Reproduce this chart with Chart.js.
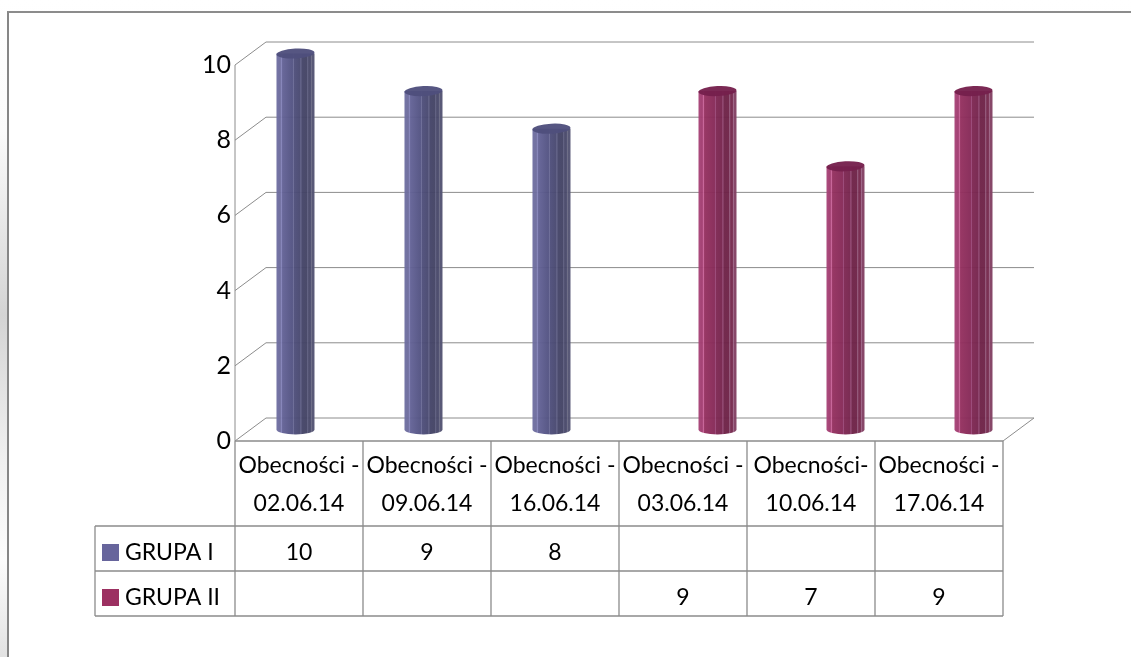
<!DOCTYPE html>
<html>
<head>
<meta charset="utf-8">
<style>
  html, body { margin: 0; padding: 0; width: 1131px; height: 657px; overflow: hidden; }
  body { background: linear-gradient(to bottom, #fff 0%, #fbfbfb 20%, #d4d4d4 48%, #f0f0f0 70%, #fcfcfc 85%, #e2e2e2 100%); }
  #frame { position: absolute; left: 7px; top: 11px; right: 0; bottom: 0; background: #fff;
           border-left: 2px solid #868686; border-top: 2px solid #8c8c8c; }
  #wykres { position: absolute; left: 0; top: 0; }
</style>
</head>
<body>
<div id="frame"></div>
<canvas id="wykres" width="1131" height="657"></canvas>
<script src="https://cdn.jsdelivr.net/npm/chart.js@4"></script>
<script>
// dane wykresu
const kategorie = [
  ['Obecności -', '02.06.14'],
  ['Obecności -', '09.06.14'],
  ['Obecności -', '16.06.14'],
  ['Obecności -', '03.06.14'],
  ['Obecności-', '10.06.14'],
  ['Obecności -', '17.06.14']
];
const grupa1 = [10, 9, 8, null, null, null];
const grupa2 = [null, null, null, 9, 7, 9];
const nazwy = ['GRUPA I', 'GRUPA II'];
const kolory = ['#67659c', '#9c3061'];

const CZCIONKA = 'Lato, "Open Sans", sans-serif';
const KOLOR_LINII = '#8c8c8c';
const GLEB_X = 31, GLEB_Y = 23;       // glebokosc sciany 3D

// pasy na walcu: [pozycja, kolor], osobno dla kazdej serii
const pasy = [
  [[0, '#6f6fa2'], [0.1, '#6c6b9c'], [0.13, '#8584ba'], [0.16, '#636296'], [0.42, '#525282'], [0.44, '#72729e'],
   [0.47, '#4e4e7a'], [0.62, '#484870'], [0.64, '#68688e'], [0.67, '#444468'], [0.8, '#434364'], [0.82, '#626284'],
   [0.85, '#454566'], [0.9, '#4c4c6e'], [0.92, '#6a6a84'], [0.95, '#505070'], [1, '#565674']],
  [[0, '#a84478'], [0.1, '#a03a6e'], [0.13, '#c86398'], [0.16, '#94305f'], [0.42, '#862957'], [0.44, '#a04e80'],
   [0.47, '#7e2752'], [0.62, '#76244d'], [0.64, '#9c5480'], [0.67, '#6e2247'], [0.8, '#6e2247'], [0.82, '#986082'],
   [0.85, '#722449'], [0.9, '#7a3053'], [0.92, '#9c6284'], [0.95, '#803c5f'], [1, '#844466']]
];
const pokrywy = ['#4f4f7d', '#76204d'];

// siatka 3D: sciana tylna, skosy i podloga
const siatka3d = {
  id: 'siatka3d',
  beforeDatasetsDraw(chart) {
    const { ctx, chartArea: a, scales: { y } } = chart;
    ctx.save();
    ctx.strokeStyle = KOLOR_LINII;
    ctx.lineWidth = 1;
    y.ticks.forEach(t => {
      const py = y.getPixelForValue(t.value);
      ctx.beginPath();
      ctx.moveTo(a.left, py);
      ctx.lineTo(a.left + GLEB_X, py - GLEB_Y);
      ctx.lineTo(a.right + GLEB_X, py - GLEB_Y);
      ctx.stroke();
    });
    // prawy skos podlogi i os pionowa
    ctx.beginPath();
    ctx.moveTo(a.right, a.bottom);
    ctx.lineTo(a.right + GLEB_X, a.bottom - GLEB_Y);
    ctx.moveTo(a.left, a.top);
    ctx.lineTo(a.left, a.bottom);
    ctx.stroke();
    ctx.restore();
  }
};

// walce zamiast zwyklych slupkow, pozycje bierzemy z elementow wykresu
const walce = {
  id: 'walce',
  beforeDatasetDraw(chart, args) {
    const { ctx } = chart;
    const meta = args.meta;
    ctx.save();
    ctx.globalAlpha = 0.96;
    meta.data.forEach((bar, i) => {
      if (chart.data.datasets[args.index].data[i] === null) return;
      const cx = bar.x + 15.5;
      const top = bar.y - 11.5;
      const bottom = bar.base - 11.5;
      const rx = bar.width / 2;
      const ry = 5;
      const grad = ctx.createLinearGradient(cx - rx, 0, cx + rx, 0);
      pasy[args.index].forEach(p => grad.addColorStop(p[0], p[1]));
      ctx.fillStyle = grad;
      ctx.beginPath();
      ctx.moveTo(cx - rx, top);
      ctx.lineTo(cx - rx, bottom);
      ctx.ellipse(cx, bottom, rx, ry, 0, Math.PI, 0, true);
      ctx.lineTo(cx + rx, top);
      ctx.closePath();
      ctx.fill();
      ctx.fillStyle = pokrywy[args.index];
      ctx.beginPath();
      ctx.ellipse(cx, top, rx, ry, -0.05, 0, Math.PI * 2);
      ctx.fill();
    });
    ctx.restore();
    return false;
  }
};

// tabela danych pod wykresem
const tabela = {
  id: 'tabela',
  afterDraw(chart) {
    const { ctx, chartArea: a } = chart;
    const szer = (a.right - a.left) / kategorie.length;
    const LEWO = 95, W1 = 526, W2 = 571, W3 = 616;
    ctx.save();
    ctx.strokeStyle = KOLOR_LINII;
    ctx.lineWidth = 1.3;
    ctx.beginPath();
    ctx.moveTo(a.left, a.bottom); ctx.lineTo(a.right, a.bottom);
    [W1, W2, W3].forEach(w => { ctx.moveTo(LEWO, w); ctx.lineTo(a.right, w); });
    ctx.moveTo(LEWO, W1); ctx.lineTo(LEWO, W3);
    for (let i = 0; i <= kategorie.length; i++) {
      const x = a.left + i * szer;
      ctx.moveTo(x, a.bottom); ctx.lineTo(x, W3);
    }
    ctx.stroke();

    ctx.font = '23px ' + CZCIONKA;
    ctx.textBaseline = 'middle';
    [grupa1, grupa2].forEach((seria, r) => {
      const y = (r === 0 ? (W1 + W2) / 2 : (W2 + W3) / 2) + 4.5;
      ctx.fillStyle = kolory[r];
      ctx.fillRect(102, y - 9, 17, 17);
      ctx.fillStyle = '#000';
      ctx.textAlign = 'left';
      ctx.fillText(nazwy[r], 125, y);
      ctx.textAlign = 'center';
      seria.forEach((v, i) => {
        if (v !== null) ctx.fillText(String(v), a.left + (i + 0.5) * szer, y);
      });
    });
    ctx.restore();
  }
};

new Chart(document.getElementById('wykres'), {
  type: 'bar',
  data: {
    labels: kategorie,
    datasets: [
      { label: nazwy[0], data: grupa1, backgroundColor: kolory[0] },
      { label: nazwy[1], data: grupa2, backgroundColor: kolory[1] }
    ]
  },
  plugins: [siatka3d, walce, tabela],
  options: {
    responsive: false,
    animation: false,
    devicePixelRatio: 1,
    categoryPercentage: 0.594,
    barPercentage: 1,
    layout: { padding: { left: 0, top: 65, right: 128, bottom: 0 } },
    plugins: { legend: { display: false }, tooltip: { enabled: false } },
    scales: {
      x: {
        grid: { display: false, drawTicks: false },
        border: { display: false },
        afterFit: s => { s.height = 216; },
        ticks: {
          color: '#000',
          font: { family: CZCIONKA, size: 23, lineHeight: 1.65 },
          padding: 6,
          maxRotation: 0,
          autoSkip: false
        }
      },
      y: {
        min: 0,
        max: 10,
        grid: { display: false, drawTicks: false },
        border: { display: false },
        afterFit: s => { s.width = 235; },
        ticks: {
          stepSize: 2,
          color: '#000',
          padding: 4,
          font: { family: CZCIONKA, size: 25 }
        }
      }
    }
  }
});
</script>
</body>
</html>
